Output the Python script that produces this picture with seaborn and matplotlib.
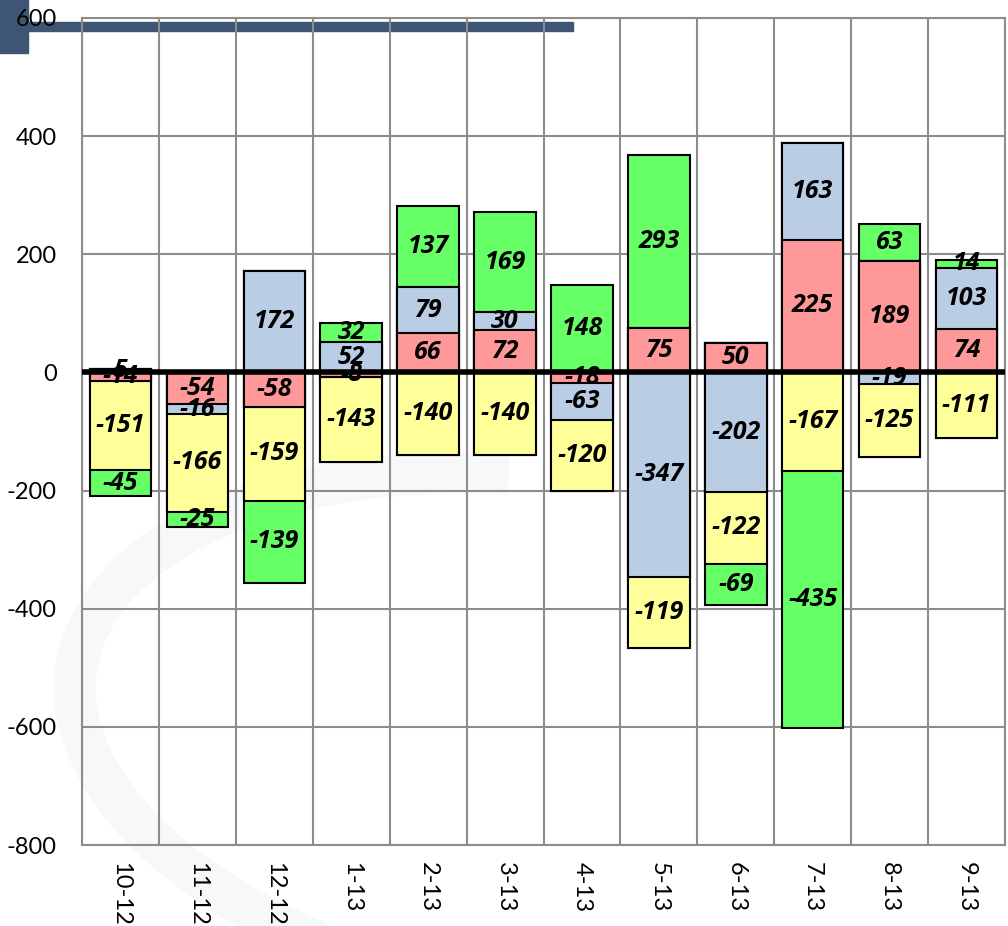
import matplotlib
matplotlib.use("Agg")
import matplotlib.pyplot as plt
from matplotlib.patches import Rectangle, Arc
import numpy as np
import seaborn as sns

months = ["10-12", "11-12", "12-12", "1-13", "2-13", "3-13",
          "4-13", "5-13", "6-13", "7-13", "8-13", "9-13"]

# stacking order: red, blue, yellow, green
red = [-14, -54, -58, -8, 66, 72, -18, 75, 50, 225, 189, 74]
blue = [5, -16, 172, 52, 79, 30, -63, -347, -202, 163, -19, 103]
yellow = [-151, -166, -159, -143, -140, -140, -120, -119, -122, -167, -125, -111]
green = [-45, -25, -139, 32, 137, 169, 148, 293, -69, -435, 63, 14]

series = [red, blue, yellow, green]
colors = ["#FF9999", "#B9CDE5", "#FFFF99", "#66FF66"]

sns.set_style("white")
plt.rcParams["font.family"] = ["Lato", "DejaVu Sans"]
plt.rcParams["axes.unicode_minus"] = False
plt.rcParams["text.color"] = "black"
plt.rcParams["xtick.color"] = "black"
plt.rcParams["ytick.color"] = "black"

fig = plt.figure(figsize=(10.08, 9.26), dpi=100)
ax = fig.add_axes([82 / 1008, 1 - 845 / 926, 923 / 1008, 827 / 926])
ax.patch.set_alpha(0)

# faint watermark swirl + header decoration (figure pixel coords)
tr = fig.transFigure
fig.patches.append(Arc((560 / 1008, 1 - 740 / 926), 980 / 1008, 520 / 926, angle=-10,
                       theta1=110, theta2=290, transform=tr, color="#f7f8fa",
                       lw=30, zorder=-2))
fig.patches.append(Rectangle((0, 1 - 31 / 926), 573 / 1008, 9 / 926,
                             transform=tr, color="#3E5573", zorder=-1))
fig.patches.append(Rectangle((0, 1 - 53 / 926), 28 / 1008, 53 / 926,
                             transform=tr, color="#3E5573", zorder=-1))

vals = np.array(series, dtype=float)
pos = np.cumsum(np.clip(vals, 0, None), axis=0)
neg = np.cumsum(np.clip(vals, None, 0), axis=0)

# overlap trick: draw outer cumulative totals first, inner ones on top
for k in range(len(series) - 1, -1, -1):
    for cum in (pos[k], neg[k]):
        sns.barplot(x=months, y=cum, color=colors[k], saturation=1, width=0.8,
                    edgecolor="black", linewidth=1.5, errorbar=None, ax=ax, zorder=3)

# value labels at segment centres
for k in range(len(series)):
    for i, v in enumerate(vals[k]):
        if v >= 0:
            base = pos[k][i] - v
        else:
            base = neg[k][i] - v
        ax.text(i, base + v / 2, f"{int(v)}", ha="center", va="center",
                fontsize=18, fontweight="bold", fontstyle="italic", zorder=5,
                color="black", family=["Open Sans", "DejaVu Sans"])

ax.axhline(0, color="black", lw=4, zorder=4)

ax.set_ylim(-800, 600)
ax.set_xlim(-0.5, len(months) - 0.5)
ax.set_yticks(np.arange(-800, 601, 200))
ax.set_xticks(np.arange(-0.5, len(months), 1), minor=True)
ax.grid(which="major", axis="y", color="#8c8c8c", lw=1.5, zorder=0)
ax.grid(which="minor", axis="x", color="#8c8c8c", lw=1.5, zorder=0)
ax.grid(which="major", axis="x", visible=False)
ax.set_axisbelow(True)
for s in ax.spines.values():
    s.set_color("#8c8c8c")
    s.set_linewidth(1.5)

ax.tick_params(axis="y", length=0, pad=18, labelsize=17, labelcolor="black")
ax.tick_params(axis="x", which="both", length=0, pad=12, labelsize=17, labelcolor="black")
plt.setp(ax.get_xticklabels(), rotation=-90, va="top", ha="center")
ax.set_xlabel("")
ax.set_ylabel("")

fig.savefig("out.png", dpi=100)
